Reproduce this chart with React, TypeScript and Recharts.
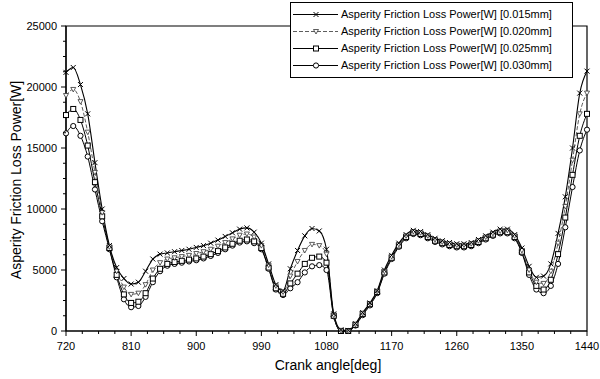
import React from "react";
import { LineChart, Line, XAxis, YAxis, ReferenceArea } from "recharts";

const angles = [
  720, 730, 740, 750, 760, 770, 780, 790, 800, 810, 820, 830, 840, 850, 860, 870, 880, 890, 900, 910,
  920, 930, 940, 950, 960, 970, 980, 990, 1000, 1010, 1020, 1030, 1040, 1050, 1060, 1070, 1080, 1090,
  1100, 1110, 1120, 1130, 1140, 1150, 1160, 1170, 1180, 1190, 1200, 1210, 1220, 1230, 1240, 1250, 1260,
  1270, 1280, 1290, 1300, 1310, 1320, 1330, 1340, 1350, 1360, 1370, 1380, 1390, 1400, 1410, 1420, 1430, 1440,
];

const loss015 = [
  21200, 21600, 20200, 17800, 13800, 10000, 7000, 5200, 4300, 3850, 4000, 4900, 5900, 6300, 6400, 6500, 6600, 6700, 6850, 7000,
  7200, 7450, 7750, 8050, 8350, 8450, 8100, 7200, 5500, 3800, 3300, 5100, 6600, 7800, 8400, 8200, 6700, 1400,
  100, 50, 600, 1500, 2300, 3300, 5000, 6200, 7200, 7900, 8250, 8150, 7900, 7600, 7400, 7250, 7150,
  7150, 7250, 7500, 7800, 8100, 8350, 8350, 7900, 6800, 5300, 4400, 4500, 5500, 8000, 11000, 15000, 19500, 21300,
];

const loss020 = [
  19300, 19800, 18800, 16300, 13000, 9700, 6900, 4900, 3600, 3000, 3100, 3800, 5000, 5600, 5900, 6000, 6100, 6200, 6350, 6500,
  6700, 6950, 7250, 7550, 7850, 7950, 7700, 7000, 5400, 3700, 3200, 4500, 5700, 6600, 7100, 7000, 6300, 1300,
  50, 0, 550, 1450, 2250, 3250, 4900, 6100, 7100, 7800, 8150, 8050, 7800, 7500, 7300, 7150, 7050,
  7050, 7150, 7400, 7700, 8000, 8200, 8250, 7800, 6600, 5000, 4000, 3900, 4900, 7200, 10200, 14000, 17800, 19500,
];

const loss025 = [
  17700, 18200, 17300, 15200, 12200, 9400, 6800, 4600, 3000, 2300, 2400, 3100, 4300, 5100, 5500, 5650, 5750, 5850, 5950, 6100,
  6300, 6550, 6850, 7150, 7400, 7500, 7350, 6800, 5200, 3500, 3050, 3900, 4700, 5500, 6000, 6100, 5600, 1250,
  0, 0, 500, 1400, 2200, 3200, 4800, 6000, 7000, 7700, 8050, 7950, 7700, 7400, 7200, 7050, 6950,
  6950, 7050, 7300, 7600, 7900, 8100, 8100, 7700, 6500, 4800, 3700, 3400, 4200, 6300, 9300, 12800, 16000, 17800,
];

const loss030 = [
  16200, 16800, 16000, 14300, 11600, 9000, 6700, 4400, 2600, 1950, 2050, 2800, 4000, 4900, 5350, 5500, 5600, 5700, 5800, 5950,
  6150, 6400, 6700, 7000, 7250, 7350, 7200, 6700, 5100, 3400, 2950, 3500, 4000, 4800, 5300, 5400, 5000, 1200,
  0, 0, 450, 1300, 2100, 3100, 4700, 5900, 6900, 7600, 7950, 7850, 7600, 7300, 7100, 6950, 6850,
  6850, 6950, 7200, 7500, 7800, 8000, 8000, 7600, 6400, 4600, 3400, 3100, 3700, 5500, 8500, 11800, 14800, 16500,
];

const seriesNames = [
  "Asperity Friction Loss Power[W] [0.015mm]",
  "Asperity Friction Loss Power[W] [0.020mm]",
  "Asperity Friction Loss Power[W] [0.025mm]",
  "Asperity Friction Loss Power[W] [0.030mm]",
];

const xTicks = Array.from({ length: 33 }, (_, i) => 720 + i * 22.5);
const yTicks = Array.from({ length: 21 }, (_, i) => i * 1250);

const data = angles.map((a, i) => ({
  angle: a,
  s015: loss015[i],
  s020: loss020[i],
  s025: loss025[i],
  s030: loss030[i],
}));

const FONT = "'Liberation Sans', Arial, sans-serif";

type MarkerKind = "x" | "tri" | "sq" | "circ";

const MarkerShape = ({ kind, cx, cy }: { kind: MarkerKind; cx: number; cy: number }) => {
  if (kind === "x") {
    return (
      <g stroke="#000" strokeWidth={1}>
        <line x1={cx - 2.5} y1={cy - 2.5} x2={cx + 2.5} y2={cy + 2.5} />
        <line x1={cx - 2.5} y1={cy + 2.5} x2={cx + 2.5} y2={cy - 2.5} />
      </g>
    );
  }
  if (kind === "tri") {
    return (
      <path
        d={`M${cx - 2.5},${cy - 2} L${cx + 2.5},${cy - 2} L${cx},${cy + 2.5} Z`}
        fill="#fff"
        stroke="#333"
        strokeWidth={0.8}
      />
    );
  }
  if (kind === "sq") {
    return <rect x={cx - 2.5} y={cy - 2.5} width={5} height={5} fill="#fff" stroke="#000" strokeWidth={1} />;
  }
  return <circle cx={cx} cy={cy} r={2.6} fill="#fff" stroke="#000" strokeWidth={1} />;
};

const makeDot = (kind: MarkerKind) => (props: any) => {
  const { cx, cy, index } = props;
  if (cx == null || cy == null) return <g key={`${kind}-${index}`} />;
  return (
    <g key={`${kind}-${index}`}>
      <MarkerShape kind={kind} cx={cx} cy={cy} />
    </g>
  );
};

const XTick = (props: any) => {
  const { x, y, payload } = props;
  const major = Math.abs(payload.value % 90) < 1e-6;
  return (
    <g>
      <line x1={x} x2={x} y1={y} y2={y + (major ? 5 : 3)} stroke="#000" strokeWidth={1} />
      {major && (
        <text x={x} y={y + 19} textAnchor="middle" fontSize={11} fontFamily={FONT} fill="#000">
          {payload.value}
        </text>
      )}
    </g>
  );
};

const YTick = (props: any) => {
  const { x, y, payload } = props;
  const major = Math.abs(payload.value % 5000) < 1e-6;
  return (
    <g>
      <line x1={x - (major ? 5 : 3)} x2={x} y1={y} y2={y} stroke="#000" strokeWidth={1} />
      {major && (
        <text x={x - 9} y={y + 4} textAnchor="end" fontSize={11} fontFamily={FONT} fill="#000">
          {payload.value}
        </text>
      )}
    </g>
  );
};

const legendKinds: MarkerKind[] = ["x", "tri", "sq", "circ"];

const LegendBox = () => (
  <div
    style={{
      position: "absolute",
      left: 290,
      top: 2,
      width: 281,
      height: 71,
      border: "1px solid #000",
      background: "#fff",
      boxSizing: "content-box",
      fontFamily: FONT,
      fontSize: 11,
      color: "#000",
      paddingTop: 3,
    }}
  >
    {seriesNames.map((name, i) => (
      <div key={name} style={{ display: "flex", alignItems: "center", height: 17, lineHeight: "17px" }}>
        <svg width={50} height={17} style={{ display: "block" }}>
          <line
            x1={2}
            x2={47}
            y1={8.5}
            y2={8.5}
            stroke={i === 1 ? "#333" : "#000"}
            strokeWidth={i === 1 ? 0.8 : 1}
            strokeDasharray={i === 1 ? "4 2" : undefined}
          />
          <MarkerShape kind={legendKinds[i]} cx={25} cy={8.5} />
        </svg>
        <span style={{ whiteSpace: "nowrap" }}>{name}</span>
      </div>
    ))}
  </div>
);

export default function App() {
  return (
    <div style={{ position: "absolute", left: 0, top: 0, width: 600, height: 379, background: "#fff" }}>
      <LineChart width={600} height={379} data={data} margin={{ top: 26, right: 13, left: 0, bottom: 0 }}>
        <XAxis
          dataKey="angle"
          type="number"
          domain={[720, 1440]}
          ticks={xTicks}
          interval={0}
          tickSize={0}
          tickMargin={0}
          tickLine={false}
          tick={<XTick />}
          axisLine={{ stroke: "#000", strokeWidth: 1.2 }}
          height={48}
          label={{
            content: () => (
              <text x={328} y={370} textAnchor="middle" fontSize={14} fontFamily={FONT} fill="#000">
                Crank angle[deg]
              </text>
            ),
          }}
        />
        <YAxis
          type="number"
          domain={[0, 25000]}
          ticks={yTicks}
          interval={0}
          tickSize={0}
          tickMargin={0}
          tickLine={false}
          tick={<YTick />}
          axisLine={{ stroke: "#000", strokeWidth: 1.2 }}
          width={66}
          label={{
            content: () => (
              <text
                transform="translate(21,180) rotate(-90)"
                textAnchor="middle"
                fontSize={14}
                fontFamily={FONT}
                fill="#000"
              >
                Asperity Friction Loss Power[W]
              </text>
            ),
          }}
        />
        <ReferenceArea x1={720} x2={1440} y1={0} y2={25000} fill="none" stroke="#000" strokeWidth={1.2} fillOpacity={0} />
        <Line
          type="monotone"
          dataKey="s030"
          name={seriesNames[3]}
          stroke="#000"
          strokeWidth={1}
          dot={makeDot("circ")}
          isAnimationActive={false}
        />
        <Line
          type="monotone"
          dataKey="s025"
          name={seriesNames[2]}
          stroke="#000"
          strokeWidth={1}
          dot={makeDot("sq")}
          isAnimationActive={false}
        />
        <Line
          type="monotone"
          dataKey="s020"
          name={seriesNames[1]}
          stroke="#333"
          strokeWidth={0.8}
          strokeDasharray="4 2"
          dot={makeDot("tri")}
          isAnimationActive={false}
        />
        <Line
          type="monotone"
          dataKey="s015"
          name={seriesNames[0]}
          stroke="#000"
          strokeWidth={1.1}
          dot={makeDot("x")}
          isAnimationActive={false}
        />
      </LineChart>
      <LegendBox />
    </div>
  );
}
